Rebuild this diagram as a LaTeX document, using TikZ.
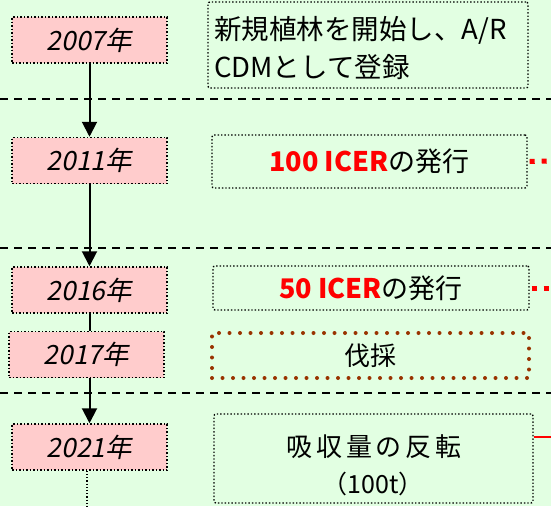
\documentclass[tikz,border=0pt]{standalone}
\usepackage{fontspec}
\setmainfont{Noto Sans CJK JP}
\newfontfamily\yearfont[FakeSlant=0.2]{Noto Sans CJK JP}
\newfontfamily\spacedfont[LetterSpace=14]{Noto Sans CJK JP}
\usetikzlibrary{arrows.meta}
\definecolor{bggreen}{HTML}{E2FFE2}
\definecolor{yearpink}{HTML}{FFCCCC}
\definecolor{cutbrown}{HTML}{993300}
\begin{document}
\begin{tikzpicture}[x=1pt,y=-1pt,
  yearbox/.style={draw, dotted, line width=1.5pt, fill=yearpink, minimum width=155pt, minimum height=46pt, inner sep=0pt, font=\yearfont\fontsize{26.5}{28}\selectfont},
  infobox/.style={draw, dotted, line width=1.4pt, rounded corners=2pt, inner sep=0pt, font=\fontsize{27}{38}\selectfont},
  cutbox/.style={draw=cutbrown, line width=4pt, line cap=round, dash pattern=on 0pt off 10.5pt, inner sep=0pt, font=\fontsize{26}{30}\selectfont},
  sepline/.style={dash pattern=on 8pt off 6pt, line width=1.6pt},
  flow/.style={line width=2pt, -{Triangle[width=15pt,length=15pt]}},
  plainflow/.style={line width=2pt},
  reddots/.style={red, line width=5pt, dash pattern=on 5pt off 7pt},
  redline/.style={red, line width=2.5pt},
]
\fill[bggreen] (0,0) rectangle (551,506);
\useasboundingbox (0,0) rectangle (551,506);
\clip (0,0) rectangle (551,506);

% separators
\coordinate (s1l) at (0,99);  \coordinate (s1r) at (551,99);
\coordinate (s2l) at (0,248); \coordinate (s2r) at (551,248);
\coordinate (s3l) at (0,393); \coordinate (s3r) at (551,393);
\draw[sepline] (s1l) -- (s1r);
\draw[sepline] (s2l) -- (s2r);
\draw[sepline] (s3l) -- (s3r);

% year boxes
\node[yearbox] (y2007) at (89.5,40) {2007年};
\node[yearbox] (y2011) at (89.5,160.5) {2011年};
\node[yearbox] (y2016) at (89.5,290) {2016年};
\node[yearbox] (y2017) at (86.5,354.5) {2017年};
\node[yearbox] (y2021) at (89.5,447) {2021年};

% flow
\draw[flow] (y2007.south) -- (y2011.north);
\draw[flow] (y2011.south) -- (y2016.north);
\draw[plainflow] (y2016.south) -- (y2016.south |- y2017.north);
\draw[flow] (y2016.south |- y2017.south) -- (y2021.north);
\coordinate (tail) at (87,510);
\draw[dotted, line width=1.2pt] (y2021.south -| tail) -- (tail);

% right boxes
\node[infobox, minimum width=320pt, minimum height=86pt] (r2007) at (368,45) {};
\node[anchor=west, align=left, inner sep=0pt, font=\fontsize{27.5}{38}\selectfont] (t2007) at (214,48) {新規植林を開始し、A/R\\CDMとして登録};
\node[infobox, minimum width=315pt, minimum height=53pt] (r2011) at (369.5,161.5) {\textcolor{red}{\bfseries 100 ICER}の発行};
\node[infobox, minimum width=316pt, minimum height=44pt] (r2016) at (371,288) {\textcolor{red}{\bfseries 50 ICER}の発行};
\node[cutbox, minimum width=317pt, minimum height=45pt] (r2017) at (370.5,355.5) {伐採};
\node[infobox, minimum width=319pt, minimum height=89pt] (r2021) at (373.5,458.5) {};
\node[font=\spacedfont\fontsize{26}{30}\selectfont, inner sep=0pt] (t2021a) at (374,447) {吸収量の反転};
\node[font=\fontsize{25}{28}\selectfont, inner sep=0pt] (t2021b) at (373,484) {（100t）};

% right connectors
\coordinate (e2011) at (551,161);
\coordinate (e2016) at (551,288);
\coordinate (e2021) at (551,437);
\draw[reddots] (r2011.east) ++(2,0) -- (e2011);
\draw[reddots] (r2016.east) ++(2,0) -- (e2016);
\draw[redline] (r2021.east |- e2021) -- (e2021);
\end{tikzpicture}
\end{document}
